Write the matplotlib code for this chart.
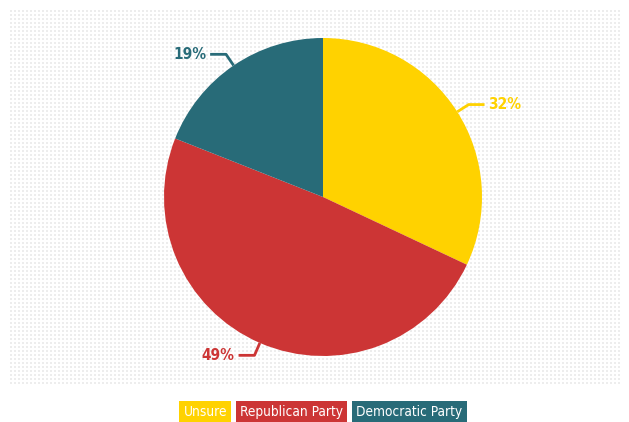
import numpy as np
import matplotlib.pyplot as plt

labels = ['Unsure', 'Republican Party', 'Democratic Party']
values = [32, 49, 19]
colors = ['#FFD200', '#CC3535', '#286B78']

W, H = 629, 422
CX, CY, R = 323, 225, 159  # pie centre (px from bottom-left) and radius

fig = plt.figure(figsize=(W / 100, H / 100), dpi=100)
ax = fig.add_axes([0, 0, 1, 1])
ax.axis('off')

# dotted background panel
ph, pw = 375, 610
pat = np.ones((ph, pw, 3))
yy, xx = np.mgrid[0:ph, 0:pw]
dots = ((yy % 4) < 2) & ((xx % 4) < 2)
pat[dots] = 0.93
ax.imshow(pat, extent=[(10 - CX) / R, (620 - CX) / R, (H - 385 - CY) / R, (H - 10 - CY) / R],
          interpolation='nearest', zorder=0, aspect='auto')

fam = 'DejaVu Sans'
wedges, _ = ax.pie(values, colors=colors, startangle=90, counterclock=False,
                   radius=1, wedgeprops=dict(linewidth=0))
ax.set_xlim(-CX / R, (W - CX) / R)
ax.set_ylim(-CY / R, (H - CY) / R)
ax.set_aspect('auto')

for w, v, c in zip(wedges, values, colors):
    ang = np.deg2rad((w.theta1 + w.theta2) / 2)
    x0, y0 = np.cos(ang), np.sin(ang)
    x1, y1 = 1.085 * x0, 1.085 * y0
    side = 1 if x0 > 0 else -1
    x2 = x1 + side * 0.1
    ax.plot([x0, x1, x2], [y0, y1, y1], color=c, lw=2, solid_capstyle='butt', zorder=3)
    ax.text(x2 + side * 0.025, y1, f'{v}%', color=c, fontsize=11, fontweight='bold',
            family=fam, fontstretch='condensed', ha='left' if side > 0 else 'right',
            va='center')

# legend as coloured boxes, laid out left to right with a small gap
fs = 9.8
texts = []
for lab, c in zip(labels, colors):
    t = fig.text(0, 10 / H, lab, color='white', fontsize=fs, family=fam,
                 fontstretch='condensed', ha='left', va='center',
                 bbox=dict(boxstyle='square,pad=0.3', facecolor=c, edgecolor='none'))
    texts.append(t)
fig.canvas.draw()
r = fig.canvas.get_renderer()
pad = 0.3 * fs * 100 / 72
widths = [t.get_window_extent(r).width + 2 * pad for t in texts]
gap = 5
x = CX - (sum(widths) + gap * (len(widths) - 1)) / 2
for t, wd in zip(texts, widths):
    t.set_x((x + pad) / W)
    x += wd + gap

fig.savefig('out.png', dpi=100)
